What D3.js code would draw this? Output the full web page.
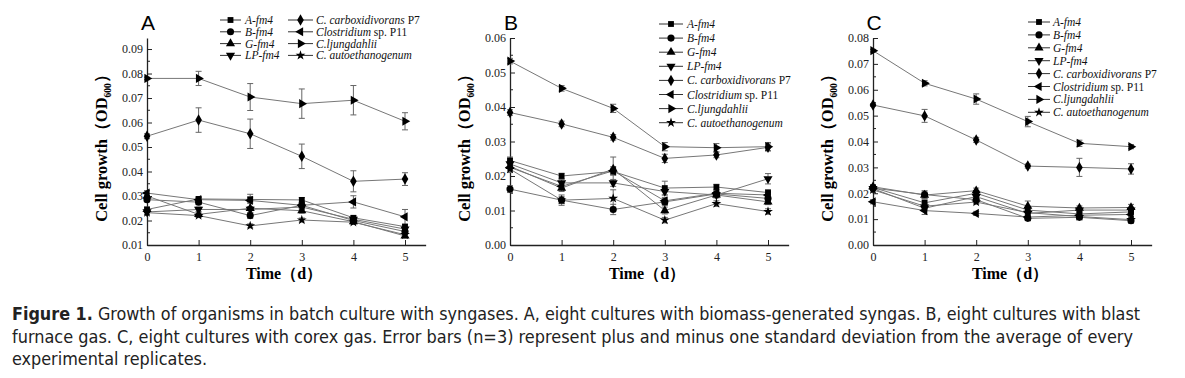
<!DOCTYPE html>
<html>
<head>
<meta charset="utf-8">
<script src="https://cdn.jsdelivr.net/npm/d3@7"></script>
<style>
  body { margin: 0; background: #fff; }
  svg { display: block; }
</style>
</head>
<body>
<svg width="1185" height="378"></svg>
<script>
// days on the x axis
const days = [0, 1, 2, 3, 4, 5];

// series order: A-fm4, B-fm4, G-fm4, LP-fm4, C. carboxidivorans P7, Clostridium sp. P11, C.ljungdahlii, C. autoethanogenum
const seriesNames = ["A-fm4", "B-fm4", "G-fm4", "LP-fm4", "C. carboxidivorans P7", "Clostridium sp. P11", "C.ljungdahlii", "C. autoethanogenum"];

// panel A - biomass-generated syngas
const valuesA = [
  [0.0245, 0.0288, 0.0286, 0.0284, 0.0211, 0.0175],
  [0.0285, 0.0275, 0.0220, 0.0262, 0.0200, 0.0155],
  [0.0300, 0.0225, 0.0250, 0.0240, 0.0195, 0.0137],
  [0.0235, 0.0245, 0.0245, 0.0255, 0.0205, 0.0165],
  [0.0544, 0.0610, 0.0554, 0.0462, 0.0360, 0.0369],
  [0.0312, 0.0285, 0.0282, 0.0262, 0.0276, 0.0215],
  [0.0780, 0.0780, 0.0704, 0.0677, 0.0691, 0.0605],
  [0.0232, 0.0220, 0.0178, 0.0202, 0.0193, 0.0142]
];
const errorsA = [
  [0.0010, 0.0008, 0.0010, 0.0010, 0.0008, 0.0008],
  [0.0008, 0.0010, 0.0012, 0.0010, 0.0008, 0.0008],
  [0.0010, 0.0010, 0.0020, 0.0010, 0.0008, 0.0008],
  [0.0008, 0.0010, 0.0012, 0.0010, 0.0008, 0.0008],
  [0.0010, 0.0050, 0.0060, 0.0050, 0.0043, 0.0026],
  [0.0010, 0.0008, 0.0025, 0.0010, 0.0025, 0.0030],
  [0.0005, 0.0029, 0.0055, 0.0060, 0.0060, 0.0035],
  [0.0008, 0.0008, 0.0008, 0.0008, 0.0008, 0.0008]
];

// panel B - blast furnace gas
const valuesB = [
  [0.0245, 0.0200, 0.0213, 0.0165, 0.0168, 0.0152],
  [0.0162, 0.0130, 0.0103, 0.0125, 0.0148, 0.0135],
  [0.0228, 0.0165, 0.0220, 0.0100, 0.0145, 0.0125],
  [0.0235, 0.0180, 0.0180, 0.0155, 0.0145, 0.0192],
  [0.0384, 0.0351, 0.0312, 0.0251, 0.0261, 0.0283],
  [0.0225, 0.0170, 0.0215, 0.0128, 0.0150, 0.0145],
  [0.0533, 0.0454, 0.0396, 0.0285, 0.0282, 0.0285],
  [0.0220, 0.0130, 0.0135, 0.0072, 0.0120, 0.0097]
];
const errorsB = [
  [0.0010, 0.0008, 0.0010, 0.0020, 0.0008, 0.0008],
  [0.0010, 0.0015, 0.0015, 0.0010, 0.0008, 0.0008],
  [0.0010, 0.0010, 0.0035, 0.0010, 0.0008, 0.0008],
  [0.0010, 0.0010, 0.0010, 0.0010, 0.0008, 0.0015],
  [0.0008, 0.0008, 0.0008, 0.0012, 0.0008, 0.0010],
  [0.0010, 0.0010, 0.0012, 0.0010, 0.0008, 0.0008],
  [0.0008, 0.0008, 0.0012, 0.0012, 0.0012, 0.0012],
  [0.0010, 0.0010, 0.0025, 0.0008, 0.0008, 0.0008]
];

// panel C - corex gas
const valuesC = [
  [0.0222, 0.0163, 0.0200, 0.0135, 0.0120, 0.0128],
  [0.0220, 0.0195, 0.0175, 0.0103, 0.0107, 0.0094],
  [0.0225, 0.0193, 0.0210, 0.0150, 0.0143, 0.0145],
  [0.0218, 0.0142, 0.0187, 0.0122, 0.0135, 0.0135],
  [0.0541, 0.0499, 0.0406, 0.0305, 0.0300, 0.0294],
  [0.0167, 0.0133, 0.0122, 0.0108, 0.0115, 0.0118],
  [0.0751, 0.0625, 0.0564, 0.0477, 0.0393, 0.0380],
  [0.0213, 0.0150, 0.0166, 0.0125, 0.0110, 0.0098]
];
const errorsC = [
  [0.0010, 0.0012, 0.0010, 0.0010, 0.0008, 0.0008],
  [0.0008, 0.0015, 0.0015, 0.0008, 0.0008, 0.0008],
  [0.0008, 0.0012, 0.0010, 0.0020, 0.0008, 0.0012],
  [0.0008, 0.0010, 0.0010, 0.0010, 0.0008, 0.0008],
  [0.0005, 0.0025, 0.0010, 0.0008, 0.0035, 0.0020],
  [0.0008, 0.0015, 0.0008, 0.0008, 0.0008, 0.0008],
  [0.0005, 0.0010, 0.0020, 0.0020, 0.0012, 0.0008],
  [0.0008, 0.0008, 0.0008, 0.0008, 0.0008, 0.0008]
];

const yTicksA = [0.01, 0.02, 0.03, 0.04, 0.05, 0.06, 0.07, 0.08, 0.09];
const yTicksB = [0.00, 0.01, 0.02, 0.03, 0.04, 0.05, 0.06];
const yTicksC = [0.00, 0.01, 0.02, 0.03, 0.04, 0.05, 0.06, 0.07, 0.08];

const captionLines = [
  [["Figure 1.", true], [" Growth of organisms in batch culture with syngases. A, eight cultures with biomass-generated syngas. B, eight cultures with blast", false]],
  [["furnace gas. C, eight cultures with corex gas. Error bars (n=3) represent plus and minus one standard deviation from the average of every", false]],
  [["experimental replicates.", false]]
];
const captionWidths = [1128, 1121, 195];

const svg = d3.select("svg");
const serif = "'Liberation Serif', 'DejaVu Serif', serif";

// marker shapes for each series: [symbol type, rotation, size]
const markers = [
  [d3.symbolSquare, 0, 34],
  [d3.symbolCircle, 0, 40],
  [d3.symbolTriangle, 0, 36],
  [d3.symbolTriangle, 180, 36],
  [d3.symbolDiamond, 0, 38],
  [d3.symbolTriangle, -90, 36],
  [d3.symbolTriangle, 90, 36],
  [d3.symbolStar, 0, 30]
];

function drawMarker(g, i, x, y) {
  const m = markers[i];
  g.append("path")
    .attr("d", d3.symbol().type(m[0]).size(m[2])())
    .attr("transform", "translate(" + x + "," + y + ") rotate(" + m[1] + ")")
    .style("fill", "#000");
}

// legend text with italic / upright parts
function legendText(g, name, x, y) {
  const t = g.append("text")
    .attr("x", x).attr("y", y).attr("dy", "0.35em")
    .style("font-family", serif).style("font-size", "11.5px").style("fill", "#111");
  let parts = [[name, true]];
  if (name === "C. carboxidivorans P7") parts = [["C. carboxidivorans", true], [" P7", false]];
  if (name === "Clostridium sp. P11") parts = [["Clostridium", true], [" sp. P11", false]];
  parts.forEach(p => {
    t.append("tspan").text(p[0]).style("font-style", p[1] ? "italic" : "normal");
  });
}

function drawPanel(cfg) {
  const x = d3.scaleLinear().domain([0, 5.4]).range([cfg.left, cfg.left + 5.4 * 51.6]);
  const y = d3.scaleLinear().domain(cfg.yDomain).range([245, 38]);
  const g = svg.append("g");

  // axes
  const xAxis = d3.axisBottom(x).tickValues(days).tickFormat(d3.format("d")).tickSizeInner(-5).tickSizeOuter(0).tickPadding(5);
  const gx = g.append("g").attr("transform", "translate(0,245)").call(xAxis);
  const yAxis = d3.axisLeft(y).tickValues(cfg.yTicks).tickFormat(d3.format(".2f")).tickSizeInner(-5).tickSizeOuter(0).tickPadding(4);
  const gy = g.append("g").attr("transform", "translate(" + cfg.left + ",0)").call(yAxis);
  // minor ticks
  const minor = cfg.yTicks.slice(0, -1).map(v => v + 0.005);
  gy.selectAll(".minor").data(minor).enter().append("line")
    .attr("x1", 0).attr("x2", 3).attr("y1", d => y(d)).attr("y2", d => y(d))
    .style("stroke", "#222");
  [gx, gy].forEach(a => {
    a.select(".domain").style("stroke", "#222").style("stroke-width", 1.3);
    a.selectAll(".tick line").style("stroke", "#222");
    a.selectAll("text").style("font-family", serif).style("font-size", "12px").style("fill", "#222");
  });
  gx.selectAll("text").attr("dy", "0.9em");

  // lines, error bars, markers
  const line = d3.line().x((d, i) => x(days[i])).y(d => y(d));
  cfg.values.forEach((vals, s) => {
    g.append("path").attr("d", line(vals))
      .style("fill", "none").style("stroke", "#777").style("stroke-width", 1);
  });
  cfg.values.forEach((vals, s) => {
    vals.forEach((v, i) => {
      const e = cfg.errors[s][i];
      const cx = x(days[i]);
      g.append("path")
        .attr("d", "M" + (cx - 3) + "," + y(v + e) + "H" + (cx + 3) + "M" + cx + "," + y(v + e) + "V" + y(v - e) + "M" + (cx - 3) + "," + y(v - e) + "H" + (cx + 3))
        .style("fill", "none").style("stroke", "#666").style("stroke-width", 1);
    });
  });
  cfg.values.forEach((vals, s) => {
    vals.forEach((v, i) => drawMarker(g, s, x(days[i]), y(v)));
  });

  // panel letter
  g.append("text").attr("x", cfg.left + 1).attr("y", 30).attr("text-anchor", "middle")
    .style("font-family", "'Liberation Sans', Arial, sans-serif").style("font-size", "21px").style("fill", "#000")
    .text(cfg.letter);

  // axis titles
  g.append("text")
    .attr("x", (x(0) + x(5)) / 2 + 8).attr("y", 279).attr("text-anchor", "middle")
    .style("font-family", serif).style("font-size", "16px").style("font-weight", "bold")
    .text("Time（d）");
  const yl = g.append("text")
    .attr("transform", "translate(" + (cfg.left - 40) + ",144) rotate(-90)")
    .attr("text-anchor", "middle")
    .style("font-family", serif).style("font-size", "16.5px").style("font-weight", "bold");
  yl.append("tspan").text("Cell growth（OD");
  yl.append("tspan").text("600").attr("dy", 4).style("font-size", "9.5px");
  yl.append("tspan").text("）").attr("dy", -4);

  // legend
  cfg.legend.forEach((pos, s) => {
    g.append("line").attr("x1", pos[0]).attr("x2", pos[1]).attr("y1", pos[3]).attr("y2", pos[3])
      .style("stroke", "#333").style("stroke-width", 1);
    drawMarker(g, s, (pos[0] + pos[1]) / 2, pos[3]);
    legendText(g, seriesNames[s], pos[2], pos[3]);
  });
}

const legendA = seriesNames.map((n, i) => i < 4
  ? [220, 241, 245, 20 + i * 11.8]
  : [288, 313, 316, 20 + (i - 4) * 11.8]);
const legendB = seriesNames.map((n, i) => [659, 683, 687, 24 + i * 14.1]);
const legendC = seriesNames.map((n, i) => [1028, 1050, 1053, 22 + i * 12.9]);

drawPanel({letter: "A", left: 147, yDomain: [0.01, 0.0945], yTicks: yTicksA, values: valuesA, errors: errorsA, legend: legendA});
drawPanel({letter: "B", left: 510, yDomain: [0, 0.06], yTicks: yTicksB, values: valuesB, errors: errorsB, legend: legendB});
drawPanel({letter: "C", left: 873, yDomain: [0, 0.08], yTicks: yTicksC, values: valuesC, errors: errorsC, legend: legendC});

// caption (narrow sans, squeezed to the reference line widths)
captionLines.forEach((ln, i) => {
  const t = svg.append("text").attr("x", 12).attr("y", 320 + i * 22.5)
    .attr("textLength", captionWidths[i]).attr("lengthAdjust", "spacingAndGlyphs")
    .style("font-family", "'DejaVu Sans', sans-serif").style("font-stretch", "condensed")
    .style("font-size", "18px").style("fill", "#222");
  ln.forEach(p => t.append("tspan").text(p[0]).style("font-weight", p[1] ? "bold" : "normal"));
});
</script>
</body>
</html>
